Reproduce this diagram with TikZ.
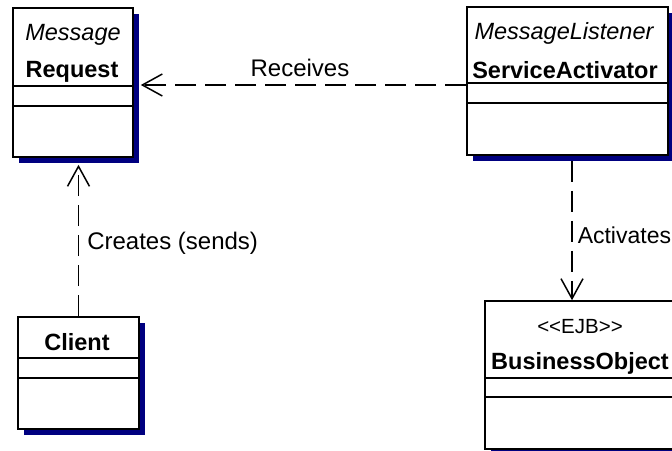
\documentclass[tikz,border=0pt]{standalone}
\usepackage{fontspec}
\setmainfont{Liberation Sans}
\usetikzlibrary{arrows.meta,shadows}
\definecolor{shadowblue}{RGB}{0,0,128}
\tikzset{
  classbox/.style={draw=black, line width=1.6pt, fill=white, inner sep=0pt,
    drop shadow={shadow xshift=5.5pt, shadow yshift=-5.5pt, fill=shadowblue, opacity=1}},
  compline/.style={draw=black, line width=1.5pt},
  classtxt/.style={inner sep=0pt, font=\fontsize{23.5}{28}\selectfont},
  nametxt/.style={classtxt, font=\fontsize{23.5}{28}\selectfont\bfseries},
  stereotxt/.style={classtxt, font=\fontsize{23.5}{28}\selectfont\itshape},
  ejbtxt/.style={inner sep=0pt, font=\fontsize{20.5}{24}\selectfont},
  deplabel/.style={inner sep=0pt, font=\fontsize{24}{28}\selectfont},
  dep/.style={line width=1.5pt, dash pattern=on 21pt off 9pt,
    -{Straight Barb[length=20pt,width=22pt,line width=1.5pt]}}
}
\begin{document}
\begin{tikzpicture}[x=1pt,y=-1pt]
\useasboundingbox (0,0) rectangle (672,450);
\clip (0,0) rectangle (672,450);
% class boxes
\node[classbox, minimum width=120pt, minimum height=149pt] (req) at (73,82.5) {};
\node[classbox, minimum width=201pt, minimum height=148pt] (sa) at (567.5,81) {};
\node[classbox, minimum width=121pt, minimum height=112pt] (cli) at (78.5,373) {};
\node[classbox, minimum width=190pt, minimum height=148pt] (bo) at (580,375) {};
% compartments
\draw[compline] (req.west |- 0,86) -- (req.east |- 0,86);
\draw[compline] (req.west |- 0,106) -- (req.east |- 0,106);
\draw[compline] (sa.west |- 0,83) -- (sa.east |- 0,83);
\draw[compline] (sa.west |- 0,103) -- (sa.east |- 0,103);
\draw[compline] (cli.west |- 0,358) -- (cli.east |- 0,358);
\draw[compline] (cli.west |- 0,378) -- (cli.east |- 0,378);
\draw[compline] (bo.west |- 0,378) -- (bo.east |- 0,378);
\draw[compline] (bo.west |- 0,397) -- (bo.east |- 0,397);
% texts
\node[stereotxt] (reqst) at (73,35) {Message};
\node[nametxt] (reqnm) at (72,72) {Request};
\node[stereotxt] (sast) at (564,33) {MessageListener};
\node[nametxt] (sanm) at (565,70) {ServiceActivator};
\node[nametxt] (clinm) at (77,342) {Client};
\node[ejbtxt] (bost) at (580,327) {<\kern0pt<EJB>\kern0pt>};
\node[nametxt] (bonm) at (580,363) {BusinessObject};
% connectors
\draw[dep, shorten >=7pt] ([yshift=-4pt]sa.west) -- ([yshift=-4pt]sa.west -| req.east)
  node[deplabel, pos=0.5, above=8pt] (lrec) {Receives};
\draw[dep, shorten >=7pt] (cli.north) -- (cli.north |- req.south)
  node[deplabel, pos=0.46, anchor=west, xshift=8pt] (lcre) {Creates (sends)};
\draw[dep, shorten <=5pt] ([xshift=4.5pt]sa.south) -- ([xshift=4.5pt]sa.south |- bo.north)
  node[deplabel, pos=0.55, anchor=west, xshift=5pt, font=\fontsize{23}{28}\selectfont] (lact) {Activates};
\end{tikzpicture}
\end{document}
